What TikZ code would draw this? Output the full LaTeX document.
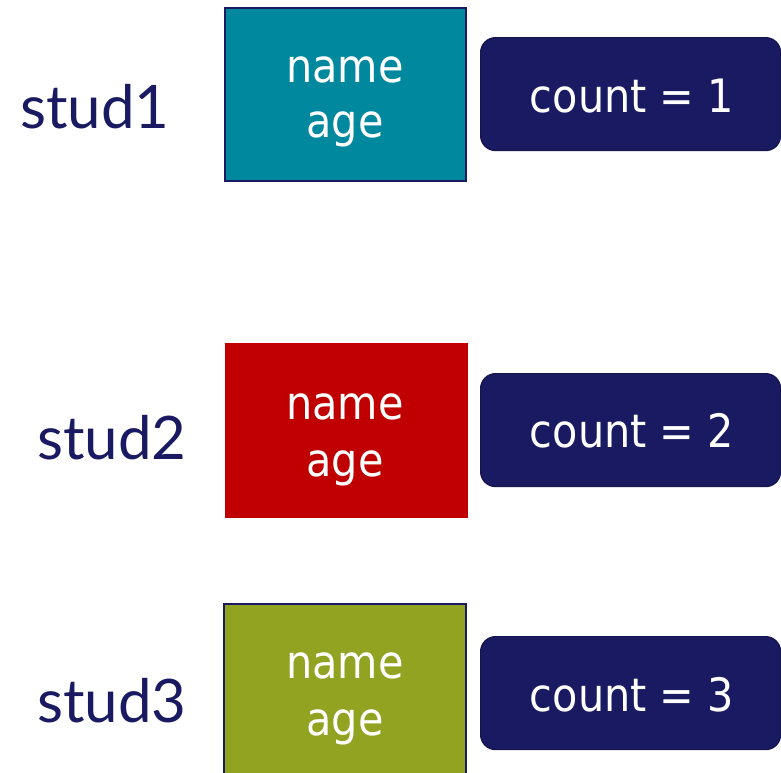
\documentclass[tikz,border=0pt]{standalone}
\usepackage{fontspec}
\setmainfont{DejaVu Sans Condensed}
\newfontfamily\studfont{Lato}
\definecolor{navy}{HTML}{1A1A62}
\definecolor{tealc}{HTML}{00889E}
\definecolor{redc}{HTML}{C00000}
\definecolor{olivec}{HTML}{92A322}
\tikzset{
  objbox/.style={draw=navy, line width=2pt, inner sep=0pt, anchor=north west},
  countbox/.style={fill=navy, draw=navy!80!black, line width=1.2pt, rounded corners=15pt, inner sep=0pt, anchor=north west, minimum width=300pt, minimum height=113pt},
  boxtext/.style={text=white, font=\fontsize{46}{55}\selectfont, anchor=base, inner sep=0pt},
  studtext/.style={text=navy, font=\studfont\fontsize{60}{66}\selectfont, anchor=base west, inner sep=0pt}
}
\begin{document}
\begin{tikzpicture}[x=1pt,y=-1pt]
\useasboundingbox (0,0) rectangle (781,772);
% row 1
\node[objbox, fill=tealc, minimum width=241pt, minimum height=173pt] (b1) at (224,7) {};
\node[countbox] (c1) at (480,37) {};
\node[studtext] (s1) at (20,128) {stud1};
\node[boxtext] (n1) at (345,82) {name};
\node[boxtext] (a1) at (345,137) {age};
\node[boxtext] (t1) at (632,112) {count = 1};
% row 2
\node[objbox, draw=none, fill=redc, minimum width=243pt, minimum height=175pt] (b2) at (224,342) {};
\node[countbox] (c2) at (480,373) {};
\node[studtext] (s2) at (37,459) {stud2};
\node[boxtext] (n2) at (345,419) {name};
\node[boxtext] (a2) at (345,476) {age};
\node[boxtext] (t2) at (632,447) {count = 2};
% row 3
\node[objbox, fill=olivec, minimum width=242pt, minimum height=180pt] (b3) at (223,603) {};
\node[countbox] (c3) at (480,636) {};
\node[studtext] (s3) at (37,722) {stud3};
\node[boxtext] (n3) at (345,678) {name};
\node[boxtext] (a3) at (345,735) {age};
\node[boxtext] (t3) at (632,711) {count = 3};
\end{tikzpicture}
\end{document}
